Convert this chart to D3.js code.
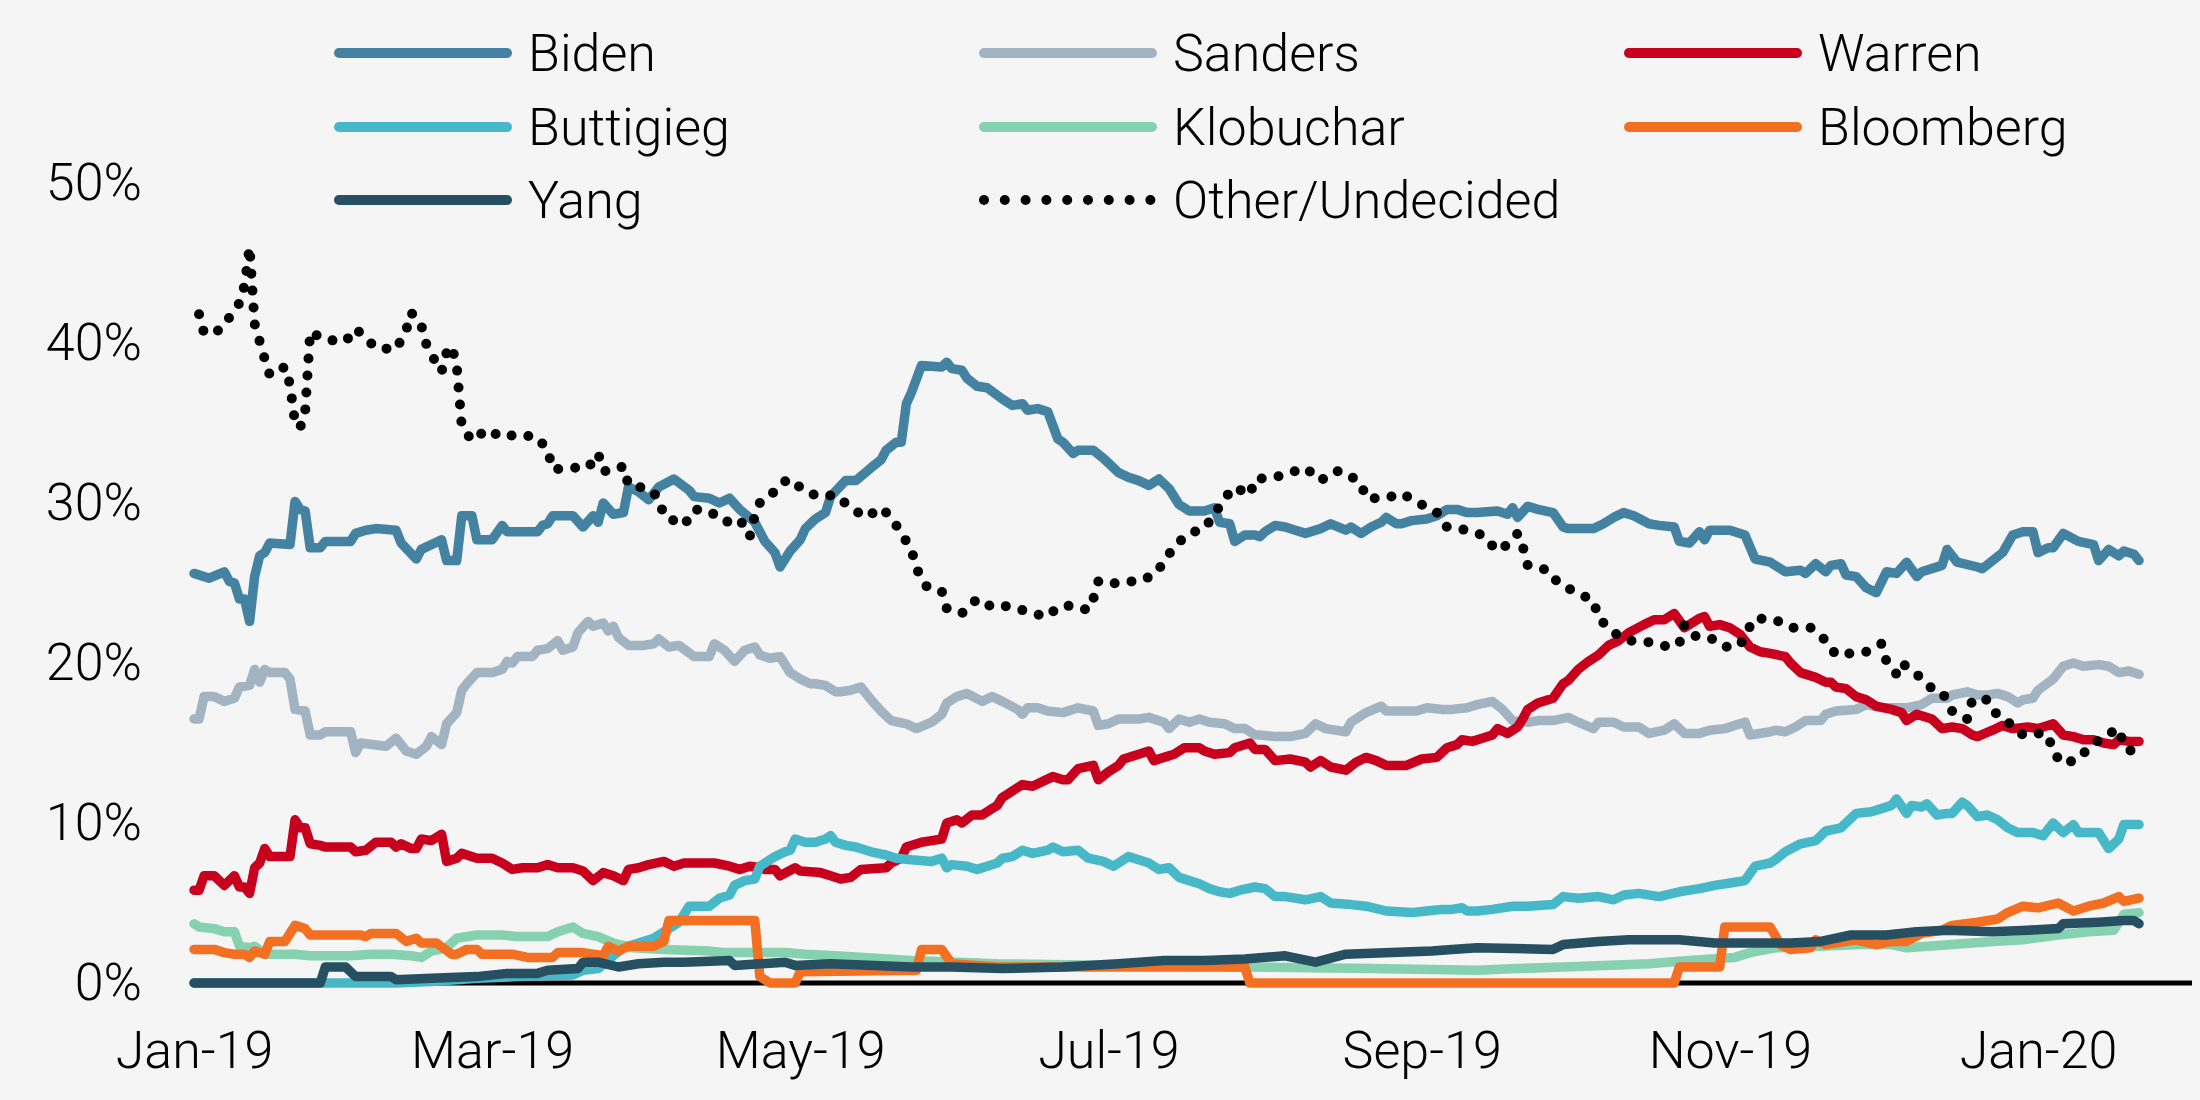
<!DOCTYPE html>
<html>
<head>
<meta charset="utf-8">
<script src="https://cdn.jsdelivr.net/npm/d3@7/dist/d3.min.js"></script>
<style>
  html, body { margin: 0; padding: 0; background: #f5f5f5; }
  svg { display: block; }
  text { font-family: Roboto, "Liberation Sans", sans-serif; font-weight: 300; fill: #000; }
</style>
</head>
<body>
<svg id="chart" width="2200" height="1100"></svg>
<script>
// ---- DATA (day offset from 2019-01-01, percent) ----
const startDate = "2019-01-01";
const seriesNames = ["Biden", "Sanders", "Warren", "Buttigieg", "Klobuchar", "Bloomberg", "Yang", "Other/Undecided"];
const seriesColors = ["#4383a1", "#a2b4c1", "#c8001e", "#46b8c8", "#86d1b0", "#f37022", "#264f61", "#000000"];
const xTickLabels = ["Jan-19", "Mar-19", "May-19", "Jul-19", "Sep-19", "Nov-19", "Jan-20"];
const yTickValues = [0, 10, 20, 30, 40, 50];

const biden = [[0,25.6],[3,25.3],[6,25.7],[7,25.1],[8,25.0],[9,24.0],[10,24.0],[11,22.6],[12,25.4],[13,26.7],[14,26.9],[15,27.5],[19,27.4],[20,30.1],[21,29.6],[22,29.5],[23,27.2],[25,27.2],[26,27.6],[31,27.6],[32,28.1],[34,28.3],[36,28.4],[40,28.3],[41,27.5],[44,26.5],[45,27.1],[47,27.4],[49,27.7],[50,26.4],[52,26.4],[53,29.2],[55,29.2],[56,27.7],[59,27.7],[61,28.6],[62,28.2],[68,28.2],[69,28.6],[70,28.7],[71,29.2],[75,29.2],[77,28.5],[79,29.2],[80,28.8],[81,30.0],[83,29.3],[85,29.4],[86,31.0],[88,30.7],[90,30.2],[92,31.0],[95,31.5],[98,30.8],[99,30.4],[102,30.3],[104,30.0],[106,30.3],[108,29.6],[111,28.8],[113,27.6],[115,26.9],[116,26.0],[118,27.0],[120,27.7],[121,28.4],[123,29.0],[125,29.4],[126,30.4],[129,31.4],[131,31.4],[134,32.2],[136,32.7],[137,33.3],[139,33.8],[140,33.8],[141,36.2],[142,36.9],[144,38.6],[148,38.5],[149,38.8],[150,38.4],[152,38.3],[153,37.8],[155,37.3],[157,37.2],[160,36.5],[162,36.1],[164,36.2],[165,35.8],[167,35.9],[169,35.7],[171,34.0],[172,33.8],[174,33.1],[175,33.3],[178,33.3],[180,32.8],[182,32.2],[183,31.9],[185,31.6],[187,31.4],[189,31.1],[191,31.5],[193,30.9],[195,29.9],[197,29.5],[200,29.5],[202,29.7],[203,28.8],[205,28.7],[206,27.6],[208,28.0],[210,28.0],[211,27.9],[212,28.2],[214,28.6],[216,28.5],[218,28.3],[220,28.1],[223,28.4],[225,28.7],[228,28.3],[229,28.5],[231,28.1],[233,28.5],[235,28.8],[236,29.1],[238,28.7],[239,28.7],[241,28.9],[244,29.0],[246,29.2],[248,29.6],[250,29.6],[252,29.4],[254,29.4],[258,29.5],[260,29.3],[261,29.7],[262,29.1],[264,29.8],[266,29.6],[269,29.4],[271,28.5],[272,28.4],[277,28.4],[279,28.7],[281,29.1],[283,29.4],[285,29.2],[288,28.7],[290,28.6],[293,28.5],[294,27.6],[296,27.5],[298,28.2],[299,27.7],[300,28.3],[304,28.3],[307,28.0],[309,26.5],[312,26.3],[315,25.7],[318,25.8],[319,25.6],[321,26.2],[323,25.7],[324,26.1],[326,26.2],[327,25.5],[329,25.4],[331,24.7],[333,24.4],[335,25.7],[337,25.6],[339,26.3],[341,25.4],[342,25.7],[344,25.9],[346,26.1],[347,27.1],[349,26.3],[353,26.0],[354,25.9],[356,26.4],[358,26.9],[360,28.0],[362,28.2],[364,28.2],[365,26.9],[367,27.2],[368,27.2],[370,28.1],[373,27.6],[376,27.4],[377,26.4],[379,27.1],[381,26.7],[382,27.0],[384,26.8],[385,26.4]];

const sanders = [[0,16.5],[1,16.5],[2,17.9],[4,17.9],[6,17.6],[7,17.7],[8,17.8],[9,18.5],[11,18.6],[12,19.6],[13,18.8],[14,19.6],[15,19.4],[18,19.4],[19,19.0],[20,17.1],[22,17.0],[23,15.5],[25,15.5],[26,15.7],[31,15.7],[32,14.4],[33,15.0],[38,14.8],[40,15.3],[42,14.5],[44,14.3],[46,14.8],[47,15.4],[49,14.9],[50,16.2],[52,16.9],[53,18.3],[54,18.7],[56,19.4],[59,19.4],[61,19.6],[62,20.1],[63,20.0],[64,20.4],[67,20.4],[68,20.8],[70,20.9],[72,21.4],[73,20.8],[75,21.0],[76,21.9],[78,22.6],[79,22.3],[81,22.5],[82,22.0],[83,22.3],[84,21.6],[86,21.1],[89,21.1],[91,21.2],[92,21.5],[94,21.0],[96,21.1],[99,20.4],[102,20.4],[103,21.2],[105,20.8],[107,20.1],[109,20.8],[111,21.0],[112,20.5],[114,20.3],[116,20.4],[118,19.4],[120,19.0],[122,18.7],[123,18.7],[125,18.6],[127,18.2],[128,18.2],[130,18.3],[132,18.5],[134,17.7],[136,17.0],[138,16.4],[141,16.2],[143,15.9],[146,16.3],[148,16.8],[149,17.5],[151,17.9],[153,18.1],[156,17.6],[158,17.9],[160,17.6],[163,17.1],[164,16.8],[165,17.2],[167,17.2],[169,17.0],[172,16.9],[175,17.2],[178,17.0],[179,16.1],[181,16.2],[183,16.5],[187,16.5],[189,16.6],[192,16.3],[193,15.9],[195,16.5],[197,16.3],[199,16.5],[201,16.3],[204,16.2],[206,15.9],[208,15.9],[210,15.5],[211,15.5],[214,15.4],[217,15.4],[220,15.6],[222,16.2],[224,15.9],[228,15.7],[229,16.3],[232,16.9],[235,17.3],[236,17.0],[239,17.0],[242,17.0],[244,17.2],[247,17.1],[249,17.1],[252,17.2],[254,17.4],[257,17.6],[259,17.1],[261,16.4],[264,16.3],[266,16.4],[269,16.4],[272,16.6],[274,16.3],[277,15.9],[278,16.3],[281,16.3],[283,16.0],[286,16.0],[288,15.6],[291,15.8],[293,16.2],[295,15.6],[298,15.6],[300,15.8],[303,15.9],[305,16.1],[307,16.3],[308,15.5],[312,15.7],[313,15.8],[315,15.7],[317,16.0],[319,16.4],[322,16.4],[323,16.8],[325,17.0],[329,17.1],[331,17.4],[334,17.2],[336,17.2],[339,17.2],[342,17.4],[344,17.8],[347,17.8],[348,18.0],[351,18.2],[353,18.0],[355,18.0],[357,18.1],[359,17.9],[361,17.5],[362,17.7],[364,17.8],[365,18.3],[368,19.0],[370,19.8],[372,20.0],[374,19.8],[377,19.9],[379,19.8],[381,19.4],[383,19.5],[385,19.3]];

const warren = [[0,5.8],[1,5.8],[2,6.7],[4,6.7],[6,6.1],[8,6.7],[9,6.0],[10,6.0],[11,5.6],[12,7.2],[13,7.5],[14,8.4],[15,7.9],[19,7.9],[20,10.2],[21,9.7],[22,9.7],[23,8.7],[25,8.6],[26,8.5],[31,8.5],[32,8.2],[34,8.3],[36,8.8],[39,8.8],[40,8.5],[41,8.7],[43,8.4],[44,8.4],[45,9.0],[47,8.9],[49,9.3],[50,7.6],[52,7.8],[53,8.1],[56,7.8],[59,7.8],[61,7.5],[63,7.1],[65,7.2],[68,7.2],[70,7.4],[72,7.2],[75,7.2],[77,7.0],[79,6.4],[81,6.9],[83,6.7],[85,6.4],[86,7.1],[88,7.2],[90,7.4],[93,7.6],[95,7.3],[97,7.5],[103,7.5],[106,7.3],[108,7.1],[110,7.3],[112,7.2],[113,7.1],[115,7.1],[116,6.7],[119,7.2],[120,7.0],[124,6.9],[126,6.7],[128,6.5],[130,6.6],[132,7.1],[137,7.2],[138,7.5],[140,7.8],[141,8.5],[144,8.8],[146,8.9],[148,9.0],[149,10.0],[151,10.2],[152,10.0],[154,10.5],[156,10.5],[158,10.9],[159,11.1],[160,11.6],[162,12.0],[164,12.4],[166,12.3],[168,12.6],[170,12.9],[172,12.7],[173,12.7],[175,13.4],[178,13.6],[179,12.7],[181,13.2],[183,13.6],[184,14.0],[187,14.3],[189,14.5],[190,13.9],[192,14.1],[194,14.3],[196,14.7],[199,14.7],[200,14.5],[202,14.3],[205,14.4],[206,14.7],[209,15.0],[210,14.6],[212,14.6],[214,13.9],[217,14.0],[220,13.8],[221,13.5],[223,13.9],[225,13.5],[228,13.3],[230,13.8],[232,14.1],[234,13.9],[236,13.6],[240,13.6],[243,14.0],[246,14.1],[248,14.7],[250,14.9],[251,15.2],[253,15.1],[255,15.3],[257,15.5],[258,15.9],[260,15.6],[262,16.0],[263,16.5],[264,17.1],[266,17.5],[269,17.8],[271,18.7],[272,18.9],[274,19.6],[276,20.1],[278,20.5],[280,21.1],[282,21.4],[284,21.9],[287,22.4],[289,22.7],[291,22.7],[293,23.1],[295,22.2],[298,22.8],[299,22.9],[300,22.3],[302,22.4],[304,22.2],[306,21.8],[308,21.0],[310,20.7],[312,20.6],[315,20.4],[316,20.0],[318,19.4],[321,19.1],[323,18.8],[324,18.8],[325,18.5],[327,18.4],[329,17.9],[331,17.7],[333,17.3],[336,17.1],[338,16.9],[339,16.4],[341,16.8],[344,16.5],[346,15.9],[348,16.0],[350,15.9],[352,15.5],[353,15.4],[356,15.8],[358,16.1],[360,15.9],[363,16.0],[365,15.9],[366,16.0],[368,16.2],[370,15.5],[372,15.4],[374,15.2],[376,15.2],[378,15.0],[380,14.9],[381,15.2],[383,15.1],[385,15.1]];

const buttigieg = [[0,0],[40,0],[47,0.1],[56,0.3],[64,0.4],[75,0.5],[77,0.8],[80,0.9],[83,1.7],[85,2.2],[88,2.5],[91,2.8],[93,3.2],[95,3.6],[96,3.8],[98,4.8],[102,4.8],[104,5.3],[106,5.5],[107,6.1],[109,6.4],[111,6.5],[112,7.3],[115,7.9],[117,8.2],[118,8.3],[119,9.0],[121,8.8],[123,8.8],[125,9.0],[126,9.2],[127,8.8],[129,8.6],[131,8.5],[134,8.2],[137,8.0],[139,7.8],[142,7.7],[146,7.6],[148,7.8],[149,7.2],[150,7.4],[153,7.3],[155,7.1],[157,7.3],[159,7.5],[160,7.8],[162,7.9],[164,8.3],[166,8.1],[169,8.3],[170,8.5],[172,8.2],[175,8.3],[177,7.8],[180,7.6],[182,7.3],[185,7.9],[187,7.7],[189,7.5],[191,7.1],[193,7.2],[195,6.6],[197,6.4],[199,6.2],[201,5.9],[203,5.7],[205,5.6],[207,5.8],[210,6.0],[212,5.9],[214,5.4],[216,5.4],[220,5.2],[223,5.4],[225,5.0],[229,4.9],[232,4.8],[236,4.5],[241,4.4],[244,4.5],[247,4.6],[249,4.6],[251,4.7],[252,4.5],[254,4.5],[257,4.6],[261,4.8],[264,4.8],[269,4.9],[271,5.4],[274,5.3],[278,5.4],[281,5.2],[283,5.5],[286,5.6],[290,5.4],[294,5.7],[298,5.9],[301,6.1],[305,6.3],[307,6.4],[309,7.3],[312,7.5],[313,7.7],[315,8.2],[318,8.7],[321,8.9],[323,9.5],[326,9.7],[329,10.6],[332,10.7],[334,10.9],[336,11.1],[337,11.5],[339,10.6],[340,11.1],[342,11.0],[343,11.2],[345,10.5],[347,10.6],[348,10.6],[350,11.3],[351,11.1],[353,10.4],[355,10.5],[357,10.2],[359,9.7],[361,9.4],[364,9.4],[366,9.2],[368,10.0],[370,9.4],[372,9.9],[373,9.4],[377,9.4],[379,8.4],[381,9.0],[382,9.9],[385,9.9]];

const klobuchar = [[0,3.7],[1,3.5],[4,3.4],[6,3.2],[8,3.2],[9,2.3],[11,2.2],[12,2.3],[14,1.8],[20,1.8],[23,1.7],[31,1.7],[35,1.8],[39,1.8],[43,1.7],[45,1.6],[47,2.0],[50,2.2],[52,2.8],[56,3.0],[61,3.0],[64,2.9],[70,2.9],[72,3.2],[75,3.5],[77,3.1],[80,2.9],[83,2.5],[87,2.2],[93,2.1],[102,2.0],[105,1.9],[117,1.9],[121,1.8],[127,1.7],[142,1.4],[159,1.2],[183,1.1],[208,1.0],[233,0.9],[254,0.8],[262,0.9],[271,1.0],[279,1.1],[288,1.2],[296,1.4],[305,1.6],[308,1.9],[313,2.2],[322,2.3],[330,2.4],[336,2.4],[339,2.2],[348,2.4],[356,2.6],[362,2.7],[369,3.0],[375,3.2],[380,3.3],[382,4.3],[385,4.4]];

const bloomberg = [[0,2.1],[4,2.1],[6,1.9],[8,1.8],[10,1.8],[11,1.6],[12,2.0],[14,1.8],[15,2.6],[18,2.6],[20,3.6],[22,3.4],[23,3.0],[33,3.0],[34,2.9],[35,3.1],[40,3.1],[42,2.6],[44,2.8],[45,2.5],[48,2.5],[51,1.8],[52,1.8],[54,2.1],[56,2.1],[57,1.8],[63,1.8],[66,1.6],[71,1.6],[72,1.9],[77,1.9],[81,1.7],[82,2.3],[84,2.0],[86,2.3],[91,2.3],[93,2.6],[94,3.9],[111,3.9],[112,0.4],[114,0],[119,0],[120,0.7],[143,0.8],[144,2.1],[148,2.1],[150,1.2],[159,1.0],[208,1.0],[209,0],[293,0],[294,1.0],[302,1.0],[303,3.5],[312,3.5],[314,2.4],[316,2.1],[320,2.2],[321,2.7],[323,2.4],[329,2.7],[333,2.4],[336,2.6],[339,2.6],[342,3.1],[346,3.3],[348,3.6],[353,3.8],[357,4.0],[359,4.4],[362,4.8],[365,4.7],[369,5.0],[372,4.5],[375,4.8],[378,5.0],[381,5.4],[382,5.1],[385,5.3]];

const yang = [[0,0],[25,0],[26,1.0],[30,1.0],[32,0.4],[39,0.4],[40,0.2],[47,0.3],[56,0.4],[62,0.6],[68,0.6],[70,0.8],[76,0.9],[77,1.3],[80,1.3],[84,1.0],[88,1.2],[93,1.3],[97,1.3],[106,1.4],[107,1.1],[117,1.3],[119,1.1],[126,1.2],[142,1.0],[150,1.0],[160,0.9],[172,1.0],[183,1.2],[192,1.4],[200,1.4],[208,1.5],[216,1.7],[222,1.3],[228,1.8],[237,1.9],[245,2.0],[249,2.1],[254,2.2],[269,2.1],[271,2.4],[278,2.6],[284,2.7],[294,2.7],[301,2.5],[316,2.5],[322,2.6],[328,3.0],[335,3.0],[341,3.2],[347,3.3],[356,3.2],[363,3.3],[369,3.4],[370,3.7],[377,3.8],[382,3.9],[384,3.9],[385,3.7]];

const other = [[1,41.8],[2,40.6],[5,40.8],[7,41.6],[9,42.5],[10,43.6],[11,46.0],[12,41.2],[13,40.1],[14,39.0],[15,38.0],[18,38.5],[19,37.4],[20,35.0],[21,34.7],[22,35.7],[23,40.7],[26,40.2],[30,40.1],[32,40.9],[34,40.3],[36,39.7],[40,39.6],[42,40.8],[43,41.9],[45,41.1],[46,39.9],[48,38.7],[49,38.2],[50,39.4],[51,39.8],[52,38.6],[53,34.8],[55,33.9],[58,34.6],[61,34.1],[64,34.3],[68,34.1],[70,33.3],[71,32.1],[75,32.2],[78,32.2],[80,33.1],[81,32.0],[83,32.0],[85,32.3],[86,31.1],[90,30.9],[92,30.3],[93,29.2],[97,28.6],[99,29.6],[102,29.5],[105,28.8],[108,29.0],[110,27.9],[111,29.2],[112,30.0],[114,30.4],[116,31.2],[118,31.5],[121,30.7],[124,30.4],[127,30.5],[130,29.7],[133,29.1],[136,29.7],[138,29.1],[140,28.1],[142,27.1],[143,25.9],[145,24.8],[148,24.5],[149,23.4],[152,23.1],[155,24.0],[158,23.5],[160,23.6],[163,23.4],[166,23.1],[169,22.9],[171,23.5],[174,23.6],[177,23.3],[178,24.0],[179,25.1],[181,24.9],[184,25.1],[187,25.1],[190,25.5],[192,26.3],[194,27.3],[197,28.1],[200,28.4],[202,29.3],[204,30.3],[206,31.0],[209,30.5],[210,31.5],[214,31.6],[217,31.9],[220,32.2],[223,31.4],[226,32.0],[228,31.9],[231,31.2],[232,30.3],[236,30.3],[239,30.6],[243,29.9],[246,29.4],[248,28.5],[252,28.3],[255,28.0],[258,27.0],[260,27.4],[262,28.1],[263,27.3],[264,26.1],[268,25.8],[270,25.0],[273,24.5],[277,23.9],[278,22.8],[281,21.9],[284,21.4],[288,21.3],[292,21.0],[294,21.2],[295,22.4],[297,21.7],[300,21.6],[303,21.0],[306,21.1],[308,22.3],[309,22.8],[313,22.7],[316,22.2],[320,22.2],[323,21.4],[325,20.5],[328,20.6],[331,20.7],[334,21.2],[335,20.1],[337,19.3],[338,20.0],[341,19.3],[344,18.4],[346,18.2],[348,17.0],[351,16.5],[352,17.7],[355,17.7],[357,16.7],[360,16.1],[362,15.5],[365,15.6],[367,15.5],[368,14.4],[370,13.7],[373,14.0],[375,14.7],[378,15.4],[381,15.9],[382,14.8],[384,14.4]];

const seriesData = [biden, sanders, warren, buttigieg, klobuchar, bloomberg, yang, other];

// ---- CHART ----
const svg = d3.select("#chart");
svg.append("rect").attr("width", 2200).attr("height", 1100).attr("fill", "#f5f5f5");

const parseDay = d3.timeParse("%Y-%m-%d");
const origin = parseDay(startDate);
const toDate = d => d3.timeDay.offset(origin, d);

const x = d3.scaleTime()
  .domain([origin, parseDay("2020-01-01")])
  .range([194, 2038]);
const y = d3.scaleLinear().domain([0, 50]).range([983, 183]);

// zero baseline
svg.append("line")
  .attr("x1", 190).attr("x2", 2192)
  .attr("y1", y(0)).attr("y2", y(0))
  .attr("stroke", "#000").attr("stroke-width", 5);

// y axis
const yAxis = svg.append("g")
  .attr("transform", "translate(150,0)")
  .call(d3.axisLeft(y).tickValues(yTickValues).tickFormat(d => d + "%").tickSize(0).tickPadding(8));
yAxis.select(".domain").remove();
yAxis.selectAll("text").attr("font-size", 52).attr("font-family", "Roboto, sans-serif").attr("font-weight", 300).attr("fill", "#000");

// x axis
const parseTick = d3.timeParse("%b-%y");
const tickDates = xTickLabels.map(parseTick);
const xAxis = svg.append("g")
  .attr("transform", `translate(0,${y(0)})`)
  .call(d3.axisBottom(x).tickValues(tickDates).tickFormat((d, i) => xTickLabels[i]).tickSize(0).tickPadding(48));
xAxis.select(".domain").remove();
xAxis.selectAll("text").attr("font-size", 52).attr("font-family", "Roboto, sans-serif").attr("font-weight", 300).attr("fill", "#000");

// lines
const line = d3.line().x(d => x(toDate(d[0]))).y(d => y(d[1]));
seriesData.forEach((data, i) => {
  const isDot = i === seriesNames.length - 1;
  svg.append("path")
    .datum(data)
    .attr("d", line)
    .attr("fill", "none")
    .attr("stroke", seriesColors[i])
    .attr("stroke-width", isDot ? 10 : 9.5)
    .attr("stroke-linejoin", "round")
    .attr("stroke-linecap", "round")
    .attr("stroke-dasharray", isDot ? "0 17" : null);
});

// legend
const legCols = [334, 979, 1624];
const legRows = [53, 127, 200];
seriesNames.forEach((name, i) => {
  const col = i % 3, row = Math.floor(i / 3);
  const isDot = i === seriesNames.length - 1;
  const g = svg.append("g").attr("transform", `translate(${legCols[col]},${legRows[row]})`);
  g.append("line")
    .attr("x1", 5).attr("x2", 173).attr("y1", 0).attr("y2", 0)
    .attr("stroke", seriesColors[i])
    .attr("stroke-width", 10)
    .attr("stroke-linecap", "round")
    .attr("stroke-dasharray", isDot ? "0 20.8" : null);
  g.append("text")
    .attr("x", 194).attr("y", 0).attr("dy", "0.35em")
    .attr("font-size", 52)
    .text(name);
});
</script>
</body>
</html>
